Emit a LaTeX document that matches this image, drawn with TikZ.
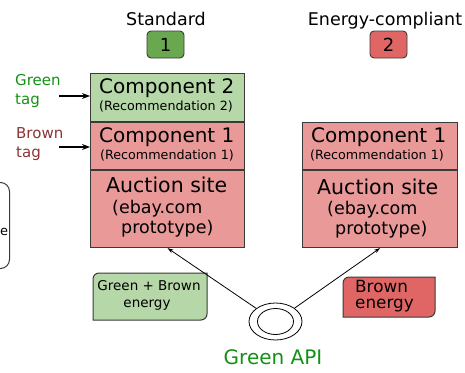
\documentclass[tikz,border=0pt]{standalone}
\usepackage{fontspec}
\setmainfont{DejaVu Sans}
\usetikzlibrary{shapes.geometric,arrows.meta}
\definecolor{greenfill}{HTML}{B6D7A8}
\definecolor{redfill}{HTML}{EA9999}
\definecolor{darkgreenfill}{HTML}{6AA84F}
\definecolor{darkredfill}{HTML}{E06666}
\definecolor{edge}{HTML}{3A3A3A}
\definecolor{greentext}{RGB}{20,145,20}
\definecolor{browntext}{RGB}{140,50,50}
\newcommand{\fs}[1]{\fontsize{#1}{#1}\selectfont}
\tikzset{
  box/.style={draw=edge, line width=1.1pt, inner sep=0pt, anchor=north west},
  badge/.style={draw=edge, line width=0.9pt, rounded corners=4pt, inner sep=0pt, minimum width=37pt, minimum height=27pt, font=\fs{18}},
  lbl/.style={inner sep=0pt, anchor=base west},
  tagarrow/.style={-{Stealth[length=8pt,width=6pt]}, line width=1.1pt},
  apiarrow/.style={-{Stealth[length=6pt,width=4pt]}, line width=0.8pt},
}
\begin{document}
\begin{tikzpicture}[x=1pt,y=-1pt]
\useasboundingbox (0,0) rectangle (465,372);

% headers
\node[inner sep=0pt, anchor=base, font=\fs{17.5}] (std) at (166,25) {Standard};
\node[inner sep=0pt, anchor=base, font=\fs{17.5}] (enc) at (385,25) {Energy-compliant};
\node[badge, fill=darkgreenfill] (b1) at (165.5,44.5) {1};
\node[badge, fill=darkredfill] (b2) at (388.5,44.5) {2};

% left stack
\node[box, fill=greenfill, minimum width=154pt, minimum height=48pt] (c2) at (90,73) {};
\node[box, fill=redfill, minimum width=154pt, minimum height=47pt] (c1) at (90,122) {};
\node[box, fill=redfill, minimum width=154pt, minimum height=77pt] (la) at (90,170) {};
\node[lbl, font=\fs{20}] (c2a) at (99,93) {Component 2};
\node[lbl, font=\fs{12.7}] (c2b) at (99,110) {(Recommendation 2)};
\node[lbl, font=\fs{20}] (c1a) at (99,142) {Component 1};
\node[lbl, font=\fs{12.7}] (c1b) at (100,159) {(Recommendation 1)};
\node[lbl, font=\fs{20.5}] (laa) at (106,192) {Auction site};
\node[lbl, font=\fs{17.5}] (lab) at (112,213) {(ebay.com};
\node[lbl, font=\fs{17.5}] (lac) at (121,233) {prototype)};

% right stack
\node[box, fill=redfill, minimum width=155pt, minimum height=47pt] (rc1) at (302,122) {};
\node[box, fill=redfill, minimum width=155pt, minimum height=77pt] (ra) at (302,170) {};
\node[lbl, font=\fs{20}] (rc1a) at (311,142) {Component 1};
\node[lbl, font=\fs{12.7}] (rc1b) at (310,159) {(Recommendation 1)};
\node[lbl, font=\fs{20.5}] (raa) at (317,194) {Auction site};
\node[lbl, font=\fs{17.5}] (rab) at (327,214) {(ebay.com};
\node[lbl, font=\fs{17.5}] (rac) at (335,234) {prototype)};

% tags
\node[lbl, font=\fs{15}, text=greentext] (gt1) at (15,85) {Green};
\node[lbl, font=\fs{15}, text=greentext] (gt2) at (15,104) {tag};
\node[lbl, font=\fs{15}, text=browntext] (bt1) at (16,138) {Brown};
\node[lbl, font=\fs{15}, text=browntext] (bt2) at (16,157) {tag};
\coordinate (ga) at (59,96);
\coordinate (ba) at (59,147);
\draw[tagarrow] (ga) -- (ga -| c2.west);
\draw[tagarrow] (ba) -- (ba -| c1.west);

% partial box at left edge
\node[draw=edge, line width=1pt, rounded corners=9pt, minimum width=60pt, minimum height=86pt, inner sep=0pt, anchor=north east] (lp) at (10,182) {};
\node[lbl, font=\fs{13}] (lpt) at (0,235) {e};

% energy boxes
\draw[draw=edge, line width=1pt, fill=greenfill] (93,320) -- (93,279) .. controls (93,275.7) and (95.7,273) .. (99,273) -- (207,273) -- (207,314) .. controls (207,317.3) and (204.3,320) .. (201,320) -- cycle;
\node[inner sep=0pt, anchor=base, font=\fs{13.5}] (gb1) at (149,290) {Green + Brown};
\node[inner sep=0pt, anchor=base, font=\fs{13.5}] (gb2) at (147,307) {energy};

\draw[draw=edge, line width=1pt, fill=darkredfill] (343,317) -- (343,283) .. controls (343,279.7) and (345.7,277) .. (349,277) -- (435,277) -- (435,311) .. controls (435,314.3) and (432.3,317) .. (429,317) -- cycle;
\node[lbl, font=\fs{16.8}] (be1) at (355,292) {Brown};
\node[lbl, font=\fs{16.8}] (be2) at (355,308) {energy};

% Green API
\node[ellipse, draw, line width=0.8pt, minimum width=53pt, minimum height=37pt, inner sep=0pt] (api) at (275.5,321.5) {};
\node[ellipse, draw, line width=0.8pt, minimum width=36pt, minimum height=26pt, inner sep=0pt] (apiin) at (275.5,321.5) {};
\node[inner sep=0pt, anchor=base, font=\fs{20}, text=greentext] (apit) at (273,364) {Green API};
\draw[apiarrow] (api) -- (la.south);
\draw[apiarrow] (api) -- (ra.south);
\end{tikzpicture}
\end{document}
